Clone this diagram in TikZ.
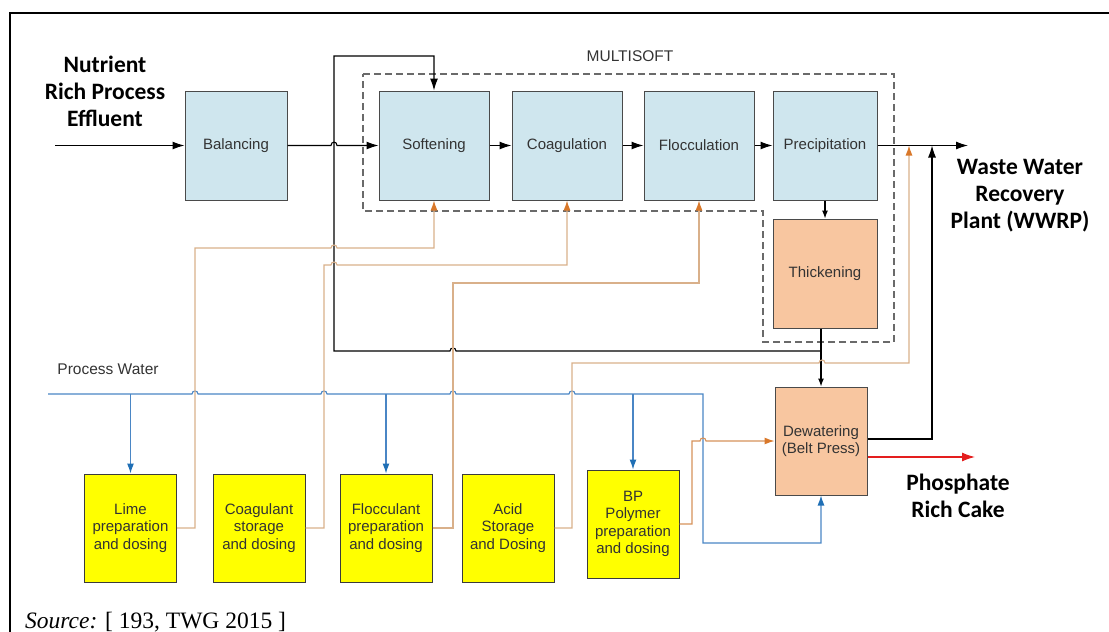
\documentclass[tikz,border=0pt]{standalone}
\usepackage{fontspec}
\setmainfont{Liberation Sans}
\newfontfamily\calibrif{Carlito}
\newfontfamily\timesf{Liberation Serif}
\usetikzlibrary{arrows.meta}
\definecolor{pblue}{HTML}{CFE6EE}
\definecolor{porange}{HTML}{F8C6A0}
\definecolor{pyellow}{HTML}{FFFF00}
\definecolor{boxline}{HTML}{4A4A4A}
\definecolor{txt}{HTML}{333333}
\definecolor{wblue}{HTML}{4A86C5}
\definecolor{wbluetip}{HTML}{1F6FB5}
\definecolor{tan}{HTML}{D9B08A}
\definecolor{orangetip}{HTML}{D9782A}
\definecolor{bporange}{HTML}{D6925A}
\definecolor{dashgray}{HTML}{6A6A6A}
\definecolor{redflow}{HTML}{E41E1E}
\begin{document}
\begin{tikzpicture}[x=1pt,y=-1pt,
  box/.style={draw=boxline, line width=1pt, inner sep=2pt, align=center,
    font=\fontsize{15}{17.5}\selectfont, text=txt},
  bluebox/.style={box, fill=pblue, minimum height=109pt},
  orangebox/.style={box, fill=porange},
  yellowbox/.style={box, fill=pyellow, draw=boxline!80!black, minimum width=92pt, minimum height=108pt},
  biglabel/.style={align=center, font=\calibrif\bfseries\fontsize{23.5}{27}\selectfont, text=black},
  smalllabel/.style={font=\fontsize{15.5}{17}\selectfont, text=txt},
  flow/.style={draw=black, line width=1.1pt},
  arr/.style={flow, -{Latex[length=12pt,width=8pt]}},
  sarr/.style={flow, -{Latex[length=8pt,width=6pt]}},
  bluel/.style={draw=wblue, line width=1.1pt},
  bluearr/.style={bluel, -{Latex[length=10pt,width=7pt,color=wbluetip]}},
  orl/.style={draw=tan, line width=1.1pt},
  orarr/.style={orl, -{Latex[length=10pt,width=7pt,color=orangetip]}},
  redarr/.style={draw=redflow, line width=1.2pt, -{Latex[length=13pt,width=9pt]}},
]
\useasboundingbox (0,0) rectangle (1109,632);
% frame
\draw[line width=2pt] (10,632) -- (10,13) -- (1109,13);

% multisoft dashed region
\draw[dashgray, line width=1.3pt, dash pattern=on 7pt off 4pt]
  (363,74) -- (894,74) -- (894,342) -- (763,342) -- (763,211) -- (363,211) -- cycle;
\node[smalllabel] (ms) at (630,56) {MULTISOFT};

% process boxes
\node[bluebox, minimum width=102pt] (bal) at (236,145.5) {Balancing};
\node[bluebox, minimum width=110pt] (soft) at (434,145.5) {Softening};
\node[bluebox, minimum width=110pt] (coag) at (567,145.5) {Coagulation};
\node[bluebox, minimum width=110pt] (floc) at (699,145.5) {Flocculation};
\node[bluebox, minimum width=104pt] (prec) at (825,145.5) {Precipitation};
\node[orangebox, minimum width=104pt, minimum height=109pt] (thick) at (825,273.5) {Thickening};
\node[orangebox, minimum width=92pt, minimum height=108pt] (dew) at (821,441) {Dewatering\\(Belt Press)};

% dosing boxes
\node[yellowbox] (lime) at (130.5,528) {Lime\\preparation\\and dosing};
\node[yellowbox] (coagst) at (259,528) {Coagulant\\storage\\and dosing};
\node[yellowbox] (flocst) at (386,528) {Flocculant\\preparation\\and dosing};
\node[yellowbox] (acid) at (508,528) {Acid\\Storage\\and Dosing};
\node[yellowbox] (bp) at (633,524) {BP\\Polymer\\preparation\\and dosing};

% labels
\node[biglabel] (nre) at (105,91) {Nutrient\\Rich Process\\Effluent};
\node[biglabel] (wwrp) at (1020,196) {Waste Water\\Recovery\\Plant (WWRP)};
\node[biglabel] (cake) at (958,496) {Phosphate\\Rich Cake};
\node[smalllabel] (pwl) at (108,369) {Process Water};
\node[anchor=base west, font=\timesf\fontsize{23.5}{26}\selectfont, inner sep=0pt] (src) at (25,628) {\textit{Source:} [ 193, TWG 2015 ]};

% free ends
\coordinate (in) at (55,145.5);
\coordinate (out) at (968,145.5);
\coordinate (cakeout) at (975,457);
\coordinate (pw) at (48,394);

% main flow
\draw[arr] (in) -- (bal.west);
\draw[arr] (bal.east) -- (331,145.5) .. controls (331,141) and (337,141) .. (337,145.5) -- (soft.west);
\draw[arr] (soft.east) -- (coag.west);
\draw[arr] (coag.east) -- (floc.west);
\draw[arr] (floc.east) -- (prec.west);
\draw[arr] (prec.east) -- (out);
\draw[sarr] (prec.south) -- (thick.north);
\draw[sarr] (dew.north |- thick.south) -- (dew.north);

% recycle to softening
\draw[arr] (dew.north |- 0,351) -- (456,351) .. controls (456,347) and (450,347) .. (450,351)
  -- (334,351) -- (334,56) -- (soft.north |- 0,56) -- (soft.north);

% dewatering filtrate back to outlet
\draw[arr] (dew.east |- 0,439) -- (932,439) -- (932,145.5);
% cake
\draw[redarr] (dew.east |- 0,457) -- (cakeout);

% process water
\draw[bluearr] (pw) -- (192,394) .. controls (192,390) and (198,390) .. (198,394)
  -- (321,394) .. controls (321,390) and (327,390) .. (327,394)
  -- (450,394) .. controls (450,390) and (456,390) .. (456,394)
  -- (569,394) .. controls (569,390) and (575,390) .. (575,394)
  -- (703,394) -- (703,543) -- (dew.south |- 0,543) -- (dew.south);
\draw[bluearr] (lime.north |- 0,394) -- (lime.north);
\draw[bluearr] (flocst.north |- 0,394) -- (flocst.north);
\draw[bluearr] (bp.north |- 0,394) -- (bp.north);

% chemical dosing lines
\draw[orarr] (lime.east) -| (195,248) -- (331,248) .. controls (331,244) and (337,244) .. (337,248)
  -- (soft.south |- 0,248) -- (soft.south);
\draw[orarr] (coagst.east) -| (324,265) -- (331,265) .. controls (331,261) and (337,261) .. (337,265)
  -- (coag.south |- 0,265) -- (coag.south);
\draw[orarr] (flocst.east) -| (453,283) -- (floc.south |- 0,283) -- (floc.south);
\draw[orarr] (acid.east) -| (572,363) -- (819,363) .. controls (819,359) and (825,359) .. (825,363)
  -- (909,363) -- (909,145.5);
\draw[draw=bporange, line width=1.1pt, -{Latex[length=10pt,width=7pt,color=orangetip]}]
  (bp.east) -| (692,441) -- (700,441) .. controls (700,437) and (706,437) .. (706,441) -- (dew.west);
\end{tikzpicture}
\end{document}
